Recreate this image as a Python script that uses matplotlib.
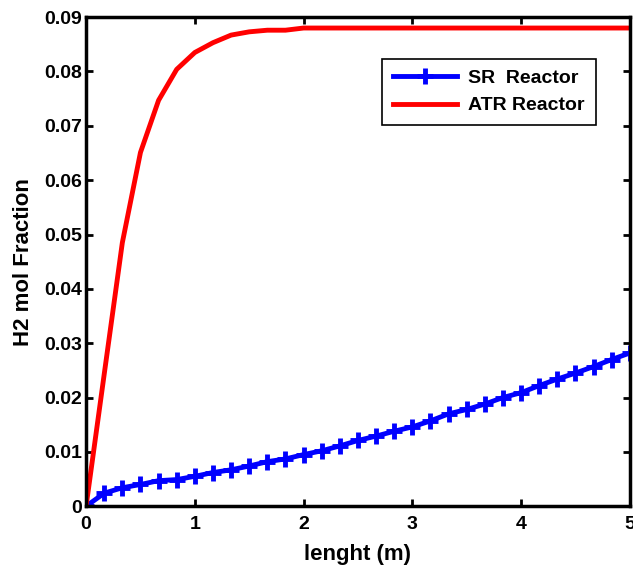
import numpy as np
import matplotlib
matplotlib.use("Agg")
import matplotlib.pyplot as plt

plt.rcParams['font.family'] = ['Liberation Sans', 'DejaVu Sans']
plt.rcParams['font.weight'] = 'bold'

# reactor length (m), 31 points
length = np.linspace(0, 5, 31)

sr_h2 = [0.0, 0.0024, 0.0034, 0.0040, 0.0047, 0.0049, 0.0055, 0.0062, 0.0067, 0.0074,
         0.0082, 0.0087, 0.0095, 0.0102, 0.0111, 0.0121, 0.0129, 0.0138, 0.0146, 0.0157,
         0.0170, 0.0178, 0.0188, 0.0200, 0.0209, 0.0222, 0.0234, 0.0245, 0.0257, 0.0270,
         0.0282]

atr_h2 = [0.0, 0.0243, 0.0485, 0.0651, 0.0747, 0.0804, 0.0835, 0.0853, 0.0867, 0.0873,
          0.0876, 0.0876, 0.0880, 0.0880, 0.0880, 0.0880, 0.0880, 0.0880, 0.0880, 0.0880,
          0.0880, 0.0880, 0.0880, 0.0880, 0.0880, 0.0880, 0.0880, 0.0880, 0.0880, 0.0880,
          0.0880]

fig = plt.figure(figsize=(6.33, 5.72), dpi=100)
ax = fig.add_axes([0.136, 0.115, 0.859, 0.855])

ax.plot(length, sr_h2, color='blue', lw=3.5, marker='+', ms=11, mew=3.5, label='SR  Reactor')
ax.plot(length, atr_h2, color='red', lw=3.5, label='ATR Reactor')

ax.set_xlim(0, 5)
ax.set_ylim(0, 0.09)
ax.set_xticks([0, 1, 2, 3, 4, 5])
ax.set_xticklabels(['0', '1', '2', '3', '4', '5'])
ax.set_yticks(np.arange(0, 0.091, 0.01))
ax.set_yticklabels(['0'] + ['%.2f' % v for v in np.arange(0.01, 0.091, 0.01)])
ax.tick_params(direction='in', top=True, right=True, length=5, width=2, labelsize=14)
ax.tick_params(axis='x', pad=7)
ax.tick_params(axis='y', pad=3)
for s in ax.spines.values():
    s.set_linewidth(2.5)

ax.set_xlabel('lenght (m)', fontsize=16, fontweight='bold', labelpad=8)
ax.set_ylabel('H2 mol Fraction', fontsize=16, fontweight='bold', labelpad=7)

leg = ax.legend(loc='upper right', bbox_to_anchor=(0.955, 0.935), fontsize=14, fancybox=False,
                framealpha=1, edgecolor='black', handlelength=3.3, borderpad=0.55,
                labelspacing=0.5, handletextpad=0.6)
leg.get_frame().set_linewidth(1.2)

fig.savefig('out.png', dpi=100)
